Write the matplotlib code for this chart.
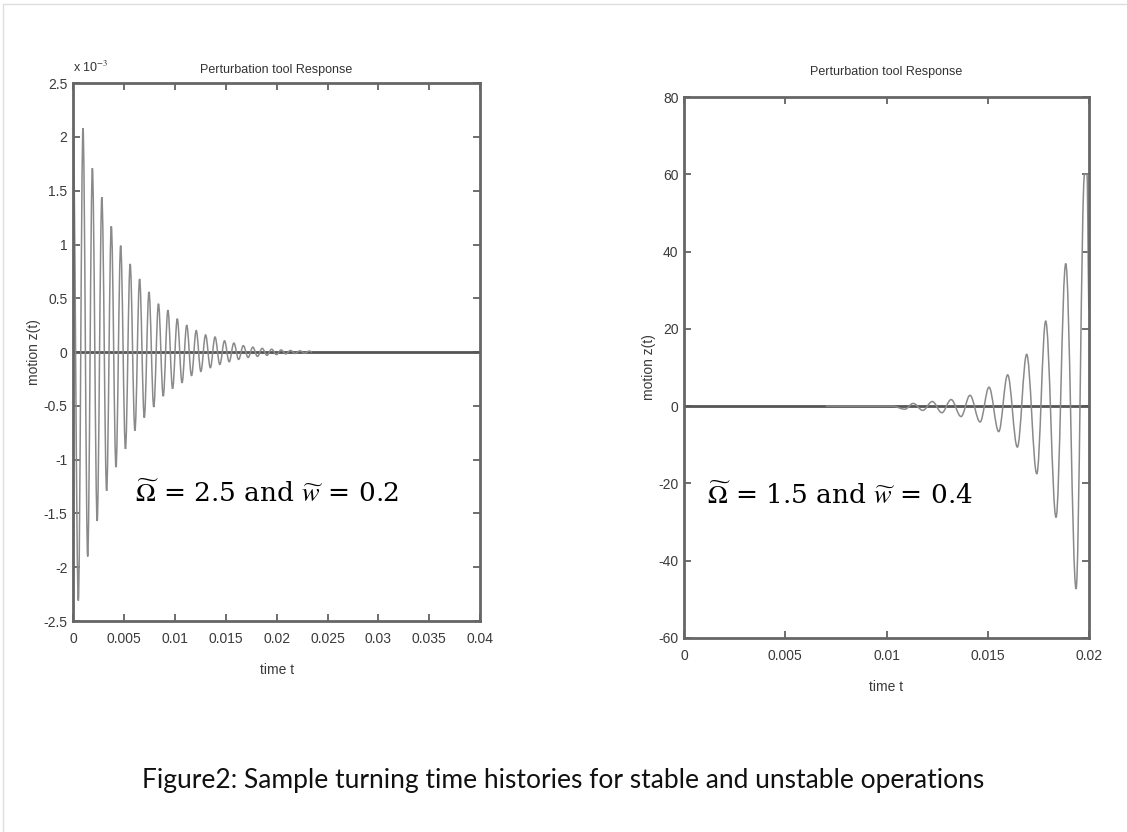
import matplotlib.pyplot as plt
from matplotlib.patches import Rectangle, PathPatch
from matplotlib.path import Path

# stable case: extremes of z(t), values in units of 1e-3
stable_t = [0.0, 0.00052, 0.00098, 0.00144, 0.00190, 0.00237, 0.00283, 0.00330,
            0.00376, 0.00422, 0.00468, 0.00515, 0.00561, 0.00608, 0.00654, 0.00700,
            0.00746, 0.00793, 0.00839, 0.00886, 0.00932, 0.00978, 0.01024, 0.01071,
            0.01117, 0.01164, 0.01210, 0.01256, 0.01302, 0.01349, 0.01395, 0.01442,
            0.01488, 0.01534, 0.01580, 0.01627, 0.01673, 0.01720, 0.01766, 0.01812,
            0.01858, 0.01905, 0.01951, 0.01998, 0.02044, 0.02090, 0.02136, 0.02183,
            0.02229, 0.02276, 0.02322, 0.02350]
stable_z = [2.13, -2.31, 2.08, -1.90, 1.71, -1.57, 1.44, -1.29,
            1.17, -1.07, 0.99, -0.90, 0.82, -0.73, 0.68, -0.61,
            0.56, -0.51, 0.45, -0.41, 0.39, -0.34, 0.31, -0.285,
            0.25, -0.22, 0.20, -0.18, 0.16, -0.145, 0.14, -0.115,
            0.105, -0.09, 0.084, -0.068, 0.06, -0.05, 0.046, -0.04,
            0.035, -0.03, 0.027, -0.023, 0.02, -0.017, 0.015, -0.013,
            0.012, -0.01, 0.01, 0.0]

# unstable case: extremes of z(t)
unstable_t = [0.0070, 0.0103, 0.0109, 0.01132, 0.01179, 0.01226, 0.01273, 0.01319,
              0.01368, 0.01412, 0.01462, 0.01506, 0.01554, 0.01598, 0.01646, 0.01692,
              0.01742, 0.01786, 0.01837, 0.01885, 0.01936, 0.01978, 0.01990, 0.0200]
unstable_z = [0.0, 0.0, -0.8, 0.7, -1.1, 1.2, -1.7, 1.7,
              -2.7, 2.8, -4.1, 4.9, -6.6, 8.1, -10.6, 13.4,
              -17.5, 22.0, -28.8, 36.9, -47.3, 60.0, 60.0, 25.0]

left_xticks = [0, 0.005, 0.01, 0.015, 0.02, 0.025, 0.03, 0.035, 0.04]
left_xlabels = ['0', '0.005', '0.01', '0.015', '0.02', '0.025', '0.03', '0.035', '0.04']
left_yticks = [-2.5, -2, -1.5, -1, -0.5, 0, 0.5, 1, 1.5, 2, 2.5]
left_ylabels = ['-2.5', '-2', '-1.5', '-1', '-0.5', '0', '0.5', '1', '1.5', '2', '2.5']
right_xticks = [0, 0.005, 0.01, 0.015, 0.02]
right_xlabels = ['0', '0.005', '0.01', '0.015', '0.02']
right_yticks = [-60, -40, -20, 0, 20, 40, 60, 80]
right_ylabels = ['-60', '-40', '-20', '0', '20', '40', '60', '80']

narrow = ['Liberation Sans', 'DejaVu Sans']
plt.rcParams['mathtext.fontset'] = 'stix'


def wave_path(t, z):
    # smooth curve through the extremes, flat at each peak
    verts = [(t[0], z[0])]
    codes = [Path.MOVETO]
    for i in range(1, len(t)):
        dt = t[i] - t[i - 1]
        verts += [(t[i - 1] + 0.36 * dt, z[i - 1]), (t[i] - 0.36 * dt, z[i]), (t[i], z[i])]
        codes += [Path.CURVE4] * 3
    return Path(verts, codes)


fig = plt.figure(figsize=(11.27, 8.32), dpi=100)
fig.add_artist(Rectangle((0.003, -0.01), 1.1, 1.005, transform=fig.transFigure,
                         fill=False, edgecolor='#dddddd', lw=1))

ax1 = fig.add_axes([0.0648, 0.2536, 0.3613, 0.6464])
ax2 = fig.add_axes([0.607, 0.2332, 0.3593, 0.6502])


def style(ax, xt, xl, yt, yl):
    ax.set_xticks(xt)
    ax.set_xticklabels(xl)
    ax.set_yticks(yt)
    ax.set_yticklabels(yl)
    ax.tick_params(direction='in', top=True, right=True, length=5, width=1.2,
                   color='#555555', labelcolor='#3a3a3a', labelsize=10)
    ax.tick_params(axis='x', pad=8)
    ax.tick_params(axis='y', pad=4)
    for lab in ax.get_xticklabels() + ax.get_yticklabels():
        lab.set_family(narrow)
    for s in ax.spines.values():
        s.set_color('#666666')
        s.set_linewidth(2)
    ax.axhline(0, color='#555555', lw=2, zorder=1)
    ax.set_ylabel('motion z(t)', family=narrow, fontsize=10, color='#3a3a3a', labelpad=2)
    ax.set_xlabel('time t', family=narrow, fontsize=10, color='#3a3a3a', labelpad=12)


ax1.add_patch(PathPatch(wave_path(stable_t, stable_z), fill=False,
                        edgecolor='#8a8a8a', lw=1.1, zorder=2))
ax1.set_xlim(0, 0.04)
ax1.set_ylim(-2.5, 2.5)
style(ax1, left_xticks, left_xlabels, left_yticks, left_ylabels)
ax1.set_title('Perturbation tool Response', family=narrow, fontsize=9, color='#333333', pad=7)
ax1.text(0.0, 1.015, r'x 10$^{-3}$', transform=ax1.transAxes, family=narrow,
         fontsize=9, color='#333333', va='bottom')
ax1.text(0.0191, -1.31, r'$\widetilde{\Omega}$ = 2.5 and $\widetilde{w}$ = 0.2',
         fontsize=19, family='serif', math_fontfamily='stix', ha='center', va='center')

ax2.add_patch(PathPatch(wave_path(unstable_t, unstable_z), fill=False,
                        edgecolor='#8a8a8a', lw=1.1, zorder=2))
ax2.set_xlim(0, 0.02)
ax2.set_ylim(-60, 80)
style(ax2, right_xticks, right_xlabels, right_yticks, right_ylabels)
ax2.set_title('Perturbation tool Response', family=narrow, fontsize=9, color='#333333', pad=16)
ax2.text(0.0077, -23, r'$\widetilde{\Omega}$ = 1.5 and $\widetilde{w}$ = 0.4',
         fontsize=19, family='serif', math_fontfamily='stix', ha='center', va='center')

fig.text(0.5, 0.062, 'Figure2: Sample turning time histories for stable and unstable operations',
         family=['Lato', 'DejaVu Sans'], fontsize=19, color='#111111', ha='center', va='center')

plt.savefig('out.png', dpi=100, facecolor='white')
